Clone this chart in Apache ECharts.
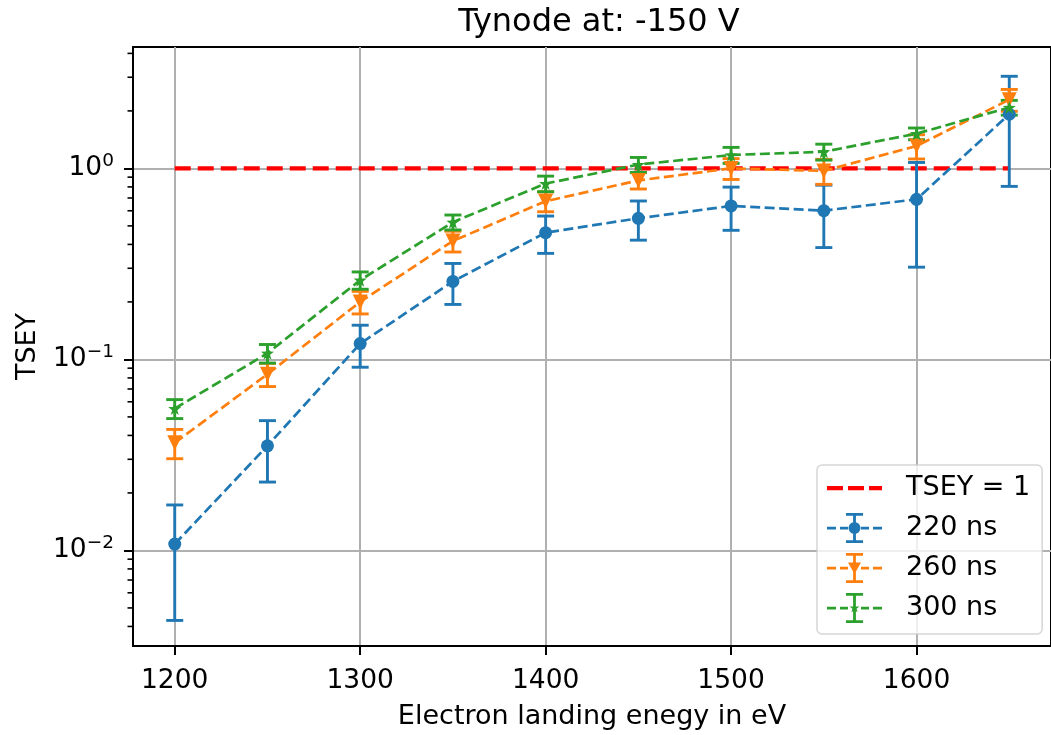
<!DOCTYPE html>
<html>
<head>
<meta charset="utf-8">
<script src="https://cdn.jsdelivr.net/npm/echarts@6/dist/echarts.min.js"></script>
<style>
html,body{margin:0;padding:0;background:#fff;}
#chart{width:1051px;height:735px;}
</style>
</head>
<body>
<div id="chart"></div>
<script>
// ---- data ----
const energies = [1200, 1250, 1300, 1350, 1400, 1450, 1500, 1550, 1600, 1650];
const tsey220 = [0.0108, 0.0353, 0.121, 0.256, 0.461, 0.548, 0.636, 0.601, 0.689, 1.92];
const err220  = [0.0065, 0.0125, 0.030, 0.062, 0.102, 0.127, 0.162, 0.216, 0.385, 1.115];
const tsey260 = [0.0366, 0.0837, 0.200, 0.417, 0.673, 0.865, 1.0, 0.97, 1.31, 2.29];
const err260  = [0.0064, 0.0116, 0.027, 0.052, 0.080, 0.085, 0.125, 0.145, 0.19, 0.30];
const tsey300 = [0.0553, 0.1077, 0.260, 0.523, 0.833, 1.047, 1.175, 1.222, 1.52, 2.085];
const err300  = [0.0063, 0.012, 0.027, 0.047, 0.078, 0.094, 0.113, 0.117, 0.107, 0.185];
const refLineX = [1200, 1650];
const refLineY = [1, 1];
const xTicks = [1200, 1300, 1400, 1500, 1600];
const yTicks = [0.01, 0.1, 1];
const yMinorTicks = [0.004,0.005,0.006,0.007,0.008,0.009,0.02,0.03,0.04,0.05,0.06,0.07,0.08,0.09,0.2,0.3,0.4,0.5,0.6,0.7,0.8,0.9,2,3,4];
const xRange = [1177.5, 1672.5];
const yRange = [0.00316, 4.32];

// ---- styling ----
const C = {blue:'#1f77b4', orange:'#ff7f0e', green:'#2ca02c', red:'#ff0000', grid:'#b0b0b0'};
const FONT = 'DejaVu Sans';
const STAR = 'path://M0,-10 L2.35,-3.24 L9.51,-3.09 L3.8,1.24 L5.88,8.09 L0,4 L-5.88,8.09 L-3.8,1.24 L-9.51,-3.09 L-2.35,-3.24 Z';

function lineData(ys){ return energies.map((x,i)=>[x, ys[i]]); }
function errData(ys, es){ return energies.map((x,i)=>[x, ys[i]-es[i], ys[i]+es[i]]); }

function errRender(color){
  return function(params, api){
    const x = api.value(0), lo = api.value(1), hi = api.value(2);
    const pHi = api.coord([x, hi]);
    const pLo = api.coord([x, lo]);
    const hw = 8.5, st = {stroke: color, lineWidth: 2.9};
    return {type:'group', children:[
      {type:'line', shape:{x1:pHi[0], y1:pHi[1], x2:pLo[0], y2:pLo[1]}, style:st},
      {type:'line', shape:{x1:pHi[0]-hw, y1:pHi[1], x2:pHi[0]+hw, y2:pHi[1]}, style:st},
      {type:'line', shape:{x1:pLo[0]-hw, y1:pLo[1], x2:pLo[0]+hw, y2:pLo[1]}, style:st}
    ]};
  };
}

// legend icons (55 x 30 box); tiny corner squares fix the bounding box
const CORNERS = 'M0,0 h0.01 v0.01 h-0.01 Z M54.99,29.99 h0.01 v0.01 h-0.01 Z ';
const ICON_RED = 'path://' + CORNERS + 'M0,13 h16 v4.2 h-16 Z M21,13 h16 v4.2 h-16 Z M42,13 h13 v4.2 h-13 Z';
const ERRBAR = 'M0,13.8 h9 v2.6 h-9 Z M13,13.8 h8 v2.6 h-8 Z M34,13.8 h8 v2.6 h-8 Z M46,13.8 h9 v2.6 h-9 Z ' +
               'M19,0 h17 v2.8 h-17 Z M19,27.2 h17 v2.8 h-17 Z M26.1,0 h2.8 v30 h-2.8 Z ';
const ICON_BLUE = 'path://' + CORNERS + ERRBAR + 'M21.5,15 a6,6 0 1,1 12,0 a6,6 0 1,1 -12,0 Z';
const ICON_ORANGE = 'path://' + CORNERS + ERRBAR + 'M21,9.5 h13 l-6.5,11.5 Z';
const ICON_GREEN = 'path://' + CORNERS + ERRBAR + 'M27.5,10 L28.8,13.5 L32.4,13.6 L29.6,15.8 L30.6,19.3 L27.5,17.2 L24.4,19.3 L25.4,15.8 L22.6,13.6 L26.2,13.5 Z';

function yLabel(v){
  const e = Math.round(Math.log10(v));
  if (Math.abs(Math.log10(v) - e) > 1e-6) return '';
  const s = (e < 0 ? '\u2212' : '') + Math.abs(e);
  return '{b|10}{s|' + s + '}';
}

const chart = echarts.init(document.getElementById('chart'), null, {renderer:'canvas'});
const option = {
  backgroundColor: '#ffffff',
  animation: false,
  textStyle: {fontFamily: FONT},
  title: {
    text: 'Tynode at: -150 V',
    left: 594, textAlign: 'center', top: 2,
    textStyle: {fontFamily: FONT, fontSize: 32, fontWeight: 'normal', color: '#000'}
  },
  grid: {left: 133, right: -4, top: 47, bottom: 87, show: true, borderColor: '#000', borderWidth: 2, backgroundColor: 'transparent'},
  legend: {
    orient: 'vertical',
    left: 817, top: 465,
    padding: [8, 12, 11, 10],
    itemWidth: 55, itemHeight: 30, itemGap: 10,
    backgroundColor: 'rgba(255,255,255,0.8)',
    borderColor: 'rgba(204,204,204,0.8)', borderWidth: 1.5, borderRadius: 5,
    textStyle: {fontFamily: FONT, fontSize: 27, color: '#000', padding: [0,0,0,19]},
    itemStyle: {borderWidth: 0},
    lineStyle: {width: 0},
    data: [
      {name: 'TSEY = 1', icon: ICON_RED},
      {name: '220 ns', icon: ICON_BLUE},
      {name: '260 ns', icon: ICON_ORANGE},
      {name: '300 ns', icon: ICON_GREEN}
    ]
  },
  xAxis: {
    type: 'value', min: xRange[0], max: xRange[1],
    name: 'Electron landing enegy in eV', nameLocation: 'middle', nameGap: 57,
    nameTextStyle: {fontFamily: FONT, fontSize: 27, color: '#000'},
    axisLine: {show: true, onZero: false, lineStyle: {color: '#000', width: 2}},
    axisTick: {show: true, inside: false, length: 9, lineStyle: {color: '#000', width: 2}, customValues: xTicks},
    axisLabel: {show: true, margin: 22, fontFamily: FONT, fontSize: 26.5, color: '#000', customValues: xTicks,
      formatter: v => String(v)},
    splitLine: {show: true, lineStyle: {color: C.grid, width: 2}}
  },
  yAxis: {
    type: 'log', logBase: 10, min: yRange[0], max: yRange[1],
    name: 'TSEY', nameLocation: 'middle', nameGap: 92, nameRotate: 90,
    nameTextStyle: {fontFamily: FONT, fontSize: 27, color: '#000'},
    axisLine: {show: true, onZero: false, lineStyle: {color: '#000', width: 2}},
    axisTick: {show: true, inside: false, length: 9, lineStyle: {color: '#000', width: 2}, customValues: yTicks},
    axisLabel: {
      show: true, margin: 19, color: '#000', customValues: yTicks,
      formatter: yLabel,
      rich: {
        b: {fontFamily: FONT, fontSize: 26.5, color: '#000'},
        s: {fontFamily: FONT, fontSize: 18.5, color: '#000', padding: [0, 0, 14, 0]}
      }
    },
    splitLine: {show: true, lineStyle: {color: C.grid, width: 2}}
  },
  series: [
    {
      name: 'yMinorTicks', type: 'custom', silent: true, clip: false, z: 5,
      data: yMinorTicks.map(v => [xRange[0], v]),
      encode: {x: 0, y: 1},
      renderItem: function(params, api){
        const p = api.coord([api.value(0), api.value(1)]);
        return {type:'line', shape:{x1:p[0]-5.5, y1:p[1], x2:p[0], y2:p[1]}, style:{stroke:'#000', lineWidth:1.6}};
      }
    },
    {
      name: 'TSEY = 1', type: 'line', z: 2,
      data: refLineX.map((x,i)=>[x, refLineY[i]]),
      symbol: 'none', color: C.red,
      lineStyle: {color: C.red, width: 4.3, type: [16, 7]}
    },
    {name: '220 ns', type: 'custom', z: 3, data: errData(tsey220, err220), encode: {x:0, y:[1,2]}, renderItem: errRender(C.blue), color: C.blue},
    {name: '220 ns', type: 'line', z: 3, data: lineData(tsey220), color: C.blue,
      symbol: 'circle', symbolSize: 13, itemStyle: {color: C.blue},
      lineStyle: {color: C.blue, width: 2.7, type: [10, 4.5]}},
    {name: '260 ns', type: 'custom', z: 3, data: errData(tsey260, err260), encode: {x:0, y:[1,2]}, renderItem: errRender(C.orange), color: C.orange},
    {name: '260 ns', type: 'line', z: 3, data: lineData(tsey260), color: C.orange,
      symbol: 'triangle', symbolRotate: 180, symbolSize: 15, itemStyle: {color: C.orange},
      lineStyle: {color: C.orange, width: 2.7, type: [10, 4.5]}},
    {name: '300 ns', type: 'custom', z: 3, data: errData(tsey300, err300), encode: {x:0, y:[1,2]}, renderItem: errRender(C.green), color: C.green},
    {name: '300 ns', type: 'line', z: 3, data: lineData(tsey300), color: C.green,
      symbol: STAR, symbolSize: 13, itemStyle: {color: C.green},
      lineStyle: {color: C.green, width: 2.7, type: [10, 4.5]}}
  ]
};
chart.setOption(option);
</script>
</body>
</html>
